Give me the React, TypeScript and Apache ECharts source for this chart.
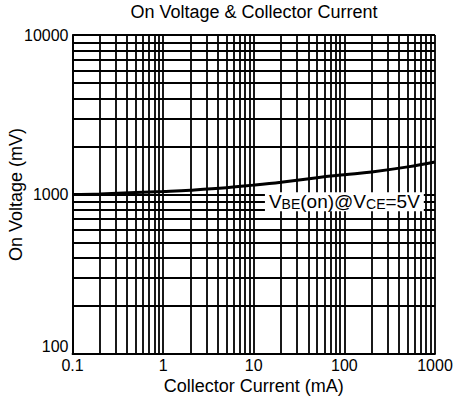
import { useEffect, useRef } from 'react';
import * as echarts from 'echarts';

const currentMA = [0.1, 0.2, 0.5, 1, 2, 5, 10, 20, 50, 100, 200, 500, 1000];
const vbeOnMV = [1000, 1008, 1028, 1045, 1065, 1102, 1145, 1195, 1275, 1330, 1385, 1490, 1600];
const xDecades = [0.1, 1, 10, 100];
const yDecades = [100, 1000];
const minorSteps = [2, 3, 4, 5, 6, 7, 8, 9];
const annotationCoord = [100, 900];
const titleText = 'On Voltage & Collector Current';
const xName = 'Collector Current (mA)';
const yName = 'On Voltage (mV)';

const FONT = '"Liberation Sans", Arial, sans-serif';

export default function App() {
  const ref = useRef<HTMLDivElement>(null);
  useEffect(() => {
    if (!ref.current) return;
    const chart = echarts.init(ref.current, null, { renderer: 'svg' });
    const xMinor: number[] = [];
    xDecades.forEach((d) => minorSteps.forEach((m) => xMinor.push(+(d * m).toPrecision(3))));
    const yMinor: number[] = [];
    yDecades.forEach((d) => minorSteps.forEach((m) => yMinor.push(+(d * m).toPrecision(3))));
    const lineStyle = { color: '#000', width: 1.8, type: 'solid' as const };
    const fmt = (v: number) => (v < 1 ? v.toFixed(1) : String(Math.round(v)));
    chart.setOption({
      animation: false,
      backgroundColor: '#fff',
      title: {
        text: titleText,
        left: 254,
        textAlign: 'center',
        top: 3,
        padding: 0,
        textStyle: { fontFamily: FONT, fontSize: 18, fontWeight: 'normal', color: '#000' },
      },
      grid: { left: 72.5, right: 19, top: 35, bottom: 47, containLabel: false, outerBoundsMode: 'none' },
      xAxis: {
        type: 'log',
        logBase: 10,
        min: 0.1,
        max: 1000,
        name: xName,
        nameLocation: 'middle',
        nameGap: 23,
        nameMoveOverlap: false,
        nameTextStyle: { fontFamily: FONT, fontSize: 18, color: '#000' },
        axisLine: { show: true, lineStyle },
        axisTick: { show: false },
        axisLabel: { fontFamily: FONT, fontSize: 16, color: '#000', margin: 3, formatter: fmt, hideOverlap: false },
        splitLine: { show: true, lineStyle },
      },
      yAxis: {
        type: 'log',
        logBase: 10,
        min: 100,
        max: 10000,
        name: yName,
        nameLocation: 'middle',
        nameGap: 48,
        nameMoveOverlap: false,
        nameTextStyle: { fontFamily: FONT, fontSize: 18, color: '#000' },
        axisLine: { show: true, lineStyle },
        axisTick: { show: false },
        axisLabel: {
          fontFamily: FONT,
          fontSize: 16,
          color: '#000',
          margin: 4,
          formatter: fmt,
          verticalAlignMinLabel: 'bottom',
          hideOverlap: false,
        },
        splitLine: { show: true, lineStyle },
      },
      series: [
        {
          type: 'line',
          name: 'grid',
          data: [],
          silent: true,
          z: 1,
          markLine: {
            silent: true,
            z: 1,
            symbol: ['none', 'none'],
            label: { show: false },
            lineStyle,
            emphasis: { disabled: true },
            data: [
              ...xMinor.map((v) => ({ xAxis: v })),
              ...yMinor.map((v) => ({ yAxis: v })),
            ],
          },
        },
        {
          type: 'line',
          name: 'VBE(on)',
          data: currentMA.map((x, i) => [x, vbeOnMV[i]]),
          smooth: 0.4,
          showSymbol: false,
          z: 3,
          lineStyle: { color: '#000', width: 3 },
          markPoint: {
            z: 10,
            silent: true,
            symbol: 'rect',
            symbolSize: 1,
            itemStyle: { color: 'rgba(0,0,0,0)' },
            data: [
              {
                coord: annotationCoord,
                label: {
                  show: true,
                  position: 'inside',
                  backgroundColor: '#fff',
                  padding: [0, 4, 0, 4],
                  formatter: '{n|V}{s|BE}{n|(on)@V}{s|CE}{n|=5V}',
                  rich: {
                    n: { fontFamily: FONT, fontSize: 19, lineHeight: 19, color: '#000', verticalAlign: 'bottom' },
                    s: { fontFamily: FONT, fontSize: 14, lineHeight: 14, color: '#000', verticalAlign: 'bottom' },
                  },
                },
              },
            ],
          },
        },
      ],
    });
    return () => chart.dispose();
  }, []);
  return <div ref={ref} style={{ position: 'fixed', left: 0, top: 0, width: 454, height: 401 }} />;
}
